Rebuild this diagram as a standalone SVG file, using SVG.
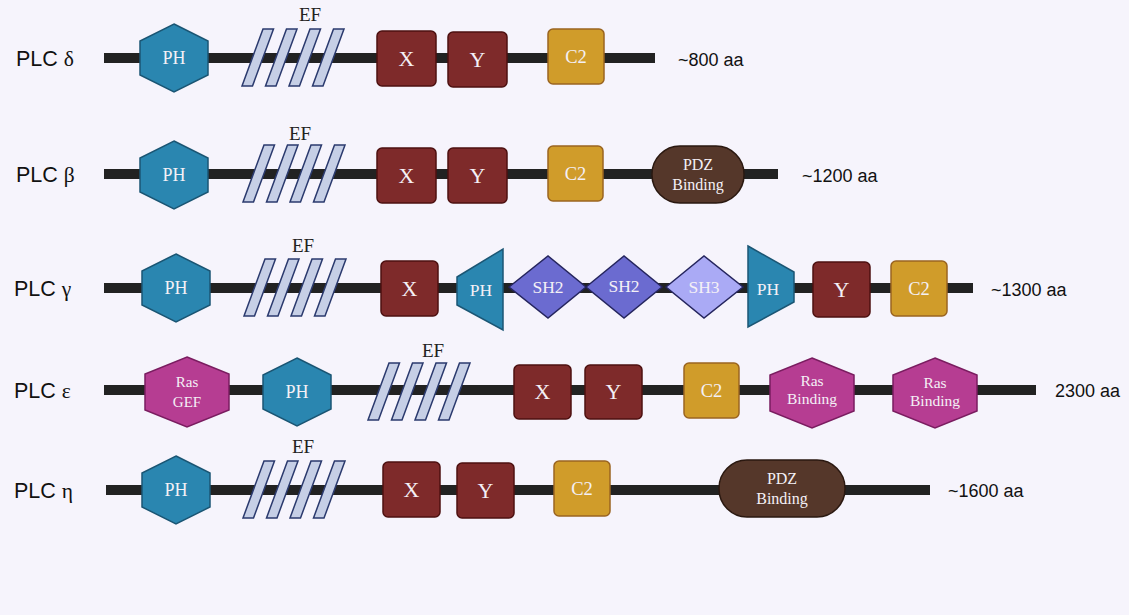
<svg xmlns="http://www.w3.org/2000/svg" xmlns:xlink="http://www.w3.org/1999/xlink" width="1129" height="615" viewBox="0 0 1129 615">
<style>
.bg{fill:#f6f4fc}
.bb{fill:#222222}
.lab{font-family:"Liberation Sans",Arial,sans-serif;font-size:21.5px;fill:#111}
.gr{font-family:"Liberation Serif","Times New Roman",serif}
.aa{font-family:"Liberation Sans",Arial,sans-serif;font-size:18px;fill:#111}
.ef{font-family:"Liberation Serif","Times New Roman",serif;font-size:19px;fill:#222}
.t{font-family:"Liberation Serif","Times New Roman",serif;fill:#f4f0f6;text-anchor:middle}
.ph{fill:#2a86b0;stroke:#1b5674;stroke-width:1.5}
.xy{fill:#7e2a2a;stroke:#4d1010;stroke-width:1.5}
.c2{fill:#d09c2a;stroke:#9a6420;stroke-width:1.5}
.pdz{fill:#55372a;stroke:#2a1810;stroke-width:1.5}
.ras{fill:#b63d92;stroke:#7a1d60;stroke-width:1.5}
.sh2{fill:#6b6bd0;stroke:#25255e;stroke-width:1.5}
.sh3{fill:#aaaaf5;stroke:#25255e;stroke-width:1.5}
.sl{fill:#c6cfe6;stroke:#2b3a6e;stroke-width:1.5}
</style>
<defs>
<g id="efset">
<path class="sl" d="M0,57 L10.5,57 L31.5,0 L21,0 Z"/>
<path class="sl" d="M23.5,57 L34,57 L55,0 L44.5,0 Z"/>
<path class="sl" d="M47,57 L57.5,57 L78.5,0 L68,0 Z"/>
<path class="sl" d="M70.5,57 L81,57 L102,0 L91.5,0 Z"/>
</g>
<path id="hexph" class="ph" d="M0,-34 L34,-17 L34,17 L0,34 L-34,17 L-34,-17 Z"/>
<path id="hexras" class="ras" d="M0,-35 L42,-18 L42,18 L0,35 L-42,18 L-42,-18 Z"/>
</defs>
<rect class="bg" x="0" y="0" width="1129" height="615"/>

<g id="connectors">
<rect class="bb" x="104" y="53" width="551" height="10"/>
<rect class="bb" x="104" y="169" width="674" height="10"/>
<rect class="bb" x="104" y="283" width="869" height="10"/>
<rect class="bb" x="104" y="385" width="932" height="10"/>
<rect class="bb" x="106" y="485" width="824" height="10"/>
</g>

<!-- PLC delta -->
<g id="plc-delta">
<text class="lab" x="16" y="66">PLC <tspan class="gr">δ</tspan></text>
<g id="d-ph"><use xlink:href="#hexph" x="174" y="58"/><text class="t" x="174" y="64" font-size="18">PH</text></g>
<g id="d-ef"><use xlink:href="#efset" x="242" y="29"/><text class="ef" x="310" y="21" text-anchor="middle">EF</text></g>
<g id="d-x"><rect class="xy" x="377" y="31" width="59" height="55" rx="5"/><text class="t" x="406.5" y="66" font-size="22">X</text></g>
<g id="d-y"><rect class="xy" x="448" y="32" width="59" height="55" rx="5"/><text class="t" x="477.5" y="67" font-size="22">Y</text></g>
<g id="d-c2"><rect class="c2" x="548" y="29" width="56" height="55" rx="5"/><text class="t" x="576" y="63" font-size="18.5">C2</text></g>
<text class="aa" x="678" y="66">~800 aa</text>
</g>

<!-- PLC beta -->
<g id="plc-beta">
<text class="lab" x="16" y="182">PLC <tspan class="gr">β</tspan></text>
<g id="b-ph"><use xlink:href="#hexph" x="174" y="175"/><text class="t" x="174" y="181" font-size="18">PH</text></g>
<g id="b-ef"><use xlink:href="#efset" x="243" y="145"/><text class="ef" x="300" y="140" text-anchor="middle">EF</text></g>
<g id="b-x"><rect class="xy" x="377" y="148" width="59" height="55" rx="5"/><text class="t" x="406.5" y="183" font-size="22">X</text></g>
<g id="b-y"><rect class="xy" x="448" y="148" width="59" height="55" rx="5"/><text class="t" x="477.5" y="183" font-size="22">Y</text></g>
<g id="b-c2"><rect class="c2" x="548" y="146" width="55" height="55" rx="5"/><text class="t" x="575.5" y="180" font-size="18.5">C2</text></g>
<g id="b-pdz"><rect class="pdz" x="652" y="146" width="92" height="57" rx="28"/><text class="t" x="698" y="170" font-size="16">PDZ</text><text class="t" x="698" y="190" font-size="16">Binding</text></g>
<text class="aa" x="802" y="182">~1200 aa</text>
</g>

<!-- PLC gamma -->
<g id="plc-gamma">
<text class="lab" x="14" y="296">PLC <tspan class="gr">γ</tspan></text>
<g id="g-ph"><use xlink:href="#hexph" x="176" y="288"/><text class="t" x="176" y="294" font-size="18">PH</text></g>
<g id="g-ef"><use xlink:href="#efset" x="244" y="259"/><text class="ef" x="303" y="252" text-anchor="middle">EF</text></g>
<g id="g-x"><rect class="xy" x="381" y="261" width="57" height="55" rx="5"/><text class="t" x="409.5" y="296" font-size="22">X</text></g>
<g id="g-ph1"><path class="ph" d="M457,277 L503,249 L503,330 L457,305 Z"/><text class="t" x="481" y="296" font-size="17.5">PH</text></g>
<g id="g-sh2a"><path class="sh2" d="M509,287 L548,256 L586,287 L548,318 Z"/><text class="t" x="548" y="293" font-size="17.5">SH2</text></g>
<g id="g-sh2b"><path class="sh2" d="M586,287 L624,256 L662,287 L624,318 Z"/><text class="t" x="624" y="292" font-size="17.5">SH2</text></g>
<g id="g-sh3"><path class="sh3" d="M666,287 L704,256 L743,287 L704,318 Z"/><text class="t" x="704" y="293" font-size="17.5">SH3</text></g>
<g id="g-ph2"><path class="ph" d="M748,246 L794,272 L794,302 L748,327 Z"/><text class="t" x="768" y="295" font-size="17.5">PH</text></g>
<g id="g-y"><rect class="xy" x="813" y="262" width="57" height="55" rx="5"/><text class="t" x="841.5" y="297" font-size="22">Y</text></g>
<g id="g-c2"><rect class="c2" x="891" y="261" width="56" height="55" rx="5"/><text class="t" x="919" y="295" font-size="18.5">C2</text></g>
<text class="aa" x="991" y="296">~1300 aa</text>
</g>

<!-- PLC epsilon -->
<g id="plc-epsilon">
<text class="lab" x="14" y="398">PLC <tspan class="gr">ε</tspan></text>
<g id="e-rasgef"><use xlink:href="#hexras" x="187" y="392"/><text class="t" x="187" y="387" font-size="15">Ras</text><text class="t" x="187" y="407" font-size="15">GEF</text></g>
<g id="e-ph"><use xlink:href="#hexph" x="297" y="392"/><text class="t" x="297" y="398" font-size="18">PH</text></g>
<g id="e-ef"><use xlink:href="#efset" x="368" y="363"/><text class="ef" x="433" y="357" text-anchor="middle">EF</text></g>
<g id="e-x"><rect class="xy" x="514" y="365" width="57" height="54" rx="5"/><text class="t" x="542.5" y="399" font-size="22">X</text></g>
<g id="e-y"><rect class="xy" x="585" y="365" width="57" height="54" rx="5"/><text class="t" x="613.5" y="399" font-size="22">Y</text></g>
<g id="e-c2"><rect class="c2" x="684" y="363" width="55" height="55" rx="5"/><text class="t" x="711.5" y="397" font-size="18.5">C2</text></g>
<g id="e-ras1"><use xlink:href="#hexras" x="812" y="393"/><text class="t" x="812" y="386" font-size="15.5">Ras</text><text class="t" x="812" y="404" font-size="15.5">Binding</text></g>
<g id="e-ras2"><use xlink:href="#hexras" x="935" y="393"/><text class="t" x="935" y="388" font-size="15.5">Ras</text><text class="t" x="935" y="406" font-size="15.5">Binding</text></g>
<text class="aa" x="1055" y="397">2300 aa</text>
</g>

<!-- PLC eta -->
<g id="plc-eta">
<text class="lab" x="14" y="498">PLC <tspan class="gr">η</tspan></text>
<g id="h-ph"><use xlink:href="#hexph" x="176" y="490"/><text class="t" x="176" y="496" font-size="18">PH</text></g>
<g id="h-ef"><use xlink:href="#efset" x="243" y="461"/><text class="ef" x="303" y="453" text-anchor="middle">EF</text></g>
<g id="h-x"><rect class="xy" x="383" y="462" width="57" height="55" rx="5"/><text class="t" x="411.5" y="497" font-size="22">X</text></g>
<g id="h-y"><rect class="xy" x="457" y="463" width="57" height="55" rx="5"/><text class="t" x="485.5" y="498" font-size="22">Y</text></g>
<g id="h-c2"><rect class="c2" x="554" y="461" width="56" height="55" rx="5"/><text class="t" x="582" y="495" font-size="18.5">C2</text></g>
<g id="h-pdz"><rect class="pdz" x="719" y="460" width="126" height="57" rx="28"/><text class="t" x="782" y="484" font-size="16">PDZ</text><text class="t" x="782" y="504" font-size="16">Binding</text></g>
<text class="aa" x="948" y="497">~1600 aa</text>
</g>
</svg>
